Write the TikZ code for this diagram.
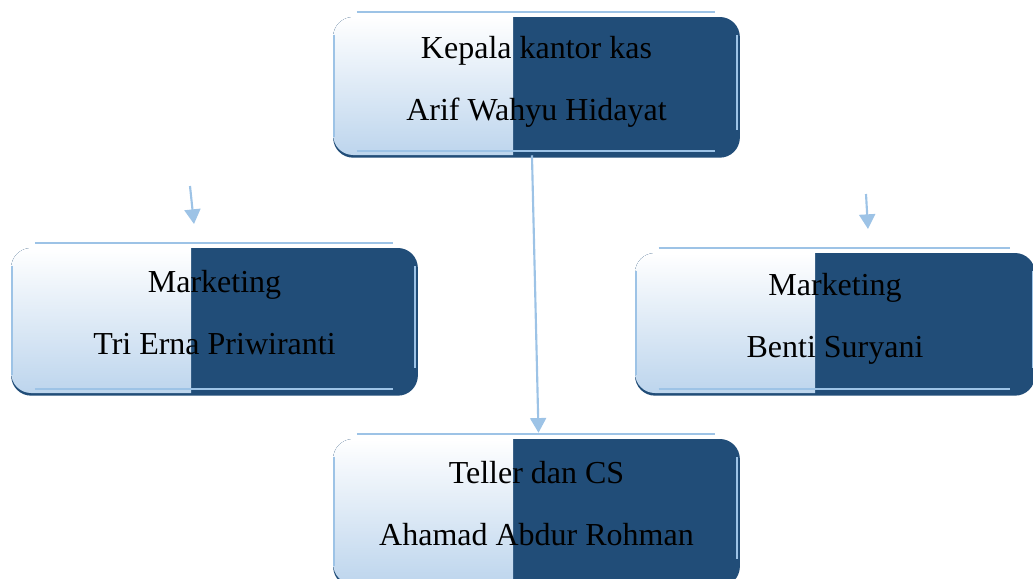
\documentclass[tikz,border=0pt]{standalone}
\usepackage{fontspec}
\setmainfont{Liberation Serif}
\usetikzlibrary{arrows.meta,shadows}

\definecolor{boxdark}{RGB}{33,77,120}
\definecolor{boxlight}{RGB}{189,213,237}
\definecolor{lineblue}{RGB}{157,195,230}

\tikzset{
  orgbox/.style={rectangle, rounded corners=15pt, fill=boxdark, inner sep=0pt,
    minimum width=305pt, align=center, font=\fontsize{24}{46.5}\selectfont,
    drop shadow={shadow xshift=0pt, shadow yshift=-2pt, fill=boxdark, opacity=1},
    path picture={\fill[sharp corners, top color=white, bottom color=boxlight]
      (path picture bounding box.north west) rectangle ([xshift=135pt]path picture bounding box.south west);},
    execute at end node={\rule[-12pt]{0pt}{12pt}}},
  frameline/.style={lineblue, line width=1.5pt},
  connector/.style={lineblue, line width=1.6pt, -{Triangle[width=12pt,length=11pt]}}
}

\begin{document}
\begin{tikzpicture}[x=0.75pt, y=-0.75pt]
            \useasboundingbox (0,0) rectangle (1033,579);
            % boxes
            \node[orgbox, minimum height=103.5pt] (kepala) at (536.5,86) {Kepala kantor kas\\Arif Wahyu Hidayat};
            \node[orgbox, minimum height=108.75pt] (mktkiri) at (214.5,320.5) {Marketing\\Tri Erna Priwiranti};
            \node[orgbox, minimum height=105pt, minimum width=300pt] (mktkanan) at (835,323) {Marketing\\Benti Suryani};
            \node[orgbox, minimum height=108.75pt] (teller) at (536.5,511.5) {Teller dan CS\\Ahamad Abdur Rohman};
            % light frame lines
            \foreach \n in {kepala,mktkiri,mktkanan,teller}{
                \draw[frameline] ([xshift=18pt,yshift=3.75pt]\n.north west) -- ([xshift=-19pt,yshift=3.75pt]\n.north east);
                \draw[frameline] ([xshift=18pt,yshift=3pt]\n.south west) -- ([xshift=-19pt,yshift=3pt]\n.south east);
                \draw[frameline] ([xshift=1pt,yshift=-13.5pt]\n.north west) -- ([xshift=1pt,yshift=14pt]\n.south west);
                \draw[frameline] ([xshift=-2pt,yshift=-14pt]\n.north east) -- ([xshift=-2pt,yshift=19pt]\n.south east);
            }
            % arrows
            \coordinate (kiriatas) at (190,186);
            \coordinate (kiribawah) at (194,224);
            \coordinate (kananatas) at (866,194);
            \coordinate (kananbawah) at (868,229);
            \draw[connector] ([xshift=-3.4pt]kepala.south) -- ([xshift=1.5pt,yshift=4.5pt]teller.north);
            \draw[connector] (kiriatas) -- (kiribawah);
            \draw[connector] (kananatas) -- (kananbawah);
        \end{tikzpicture}
\end{document}
